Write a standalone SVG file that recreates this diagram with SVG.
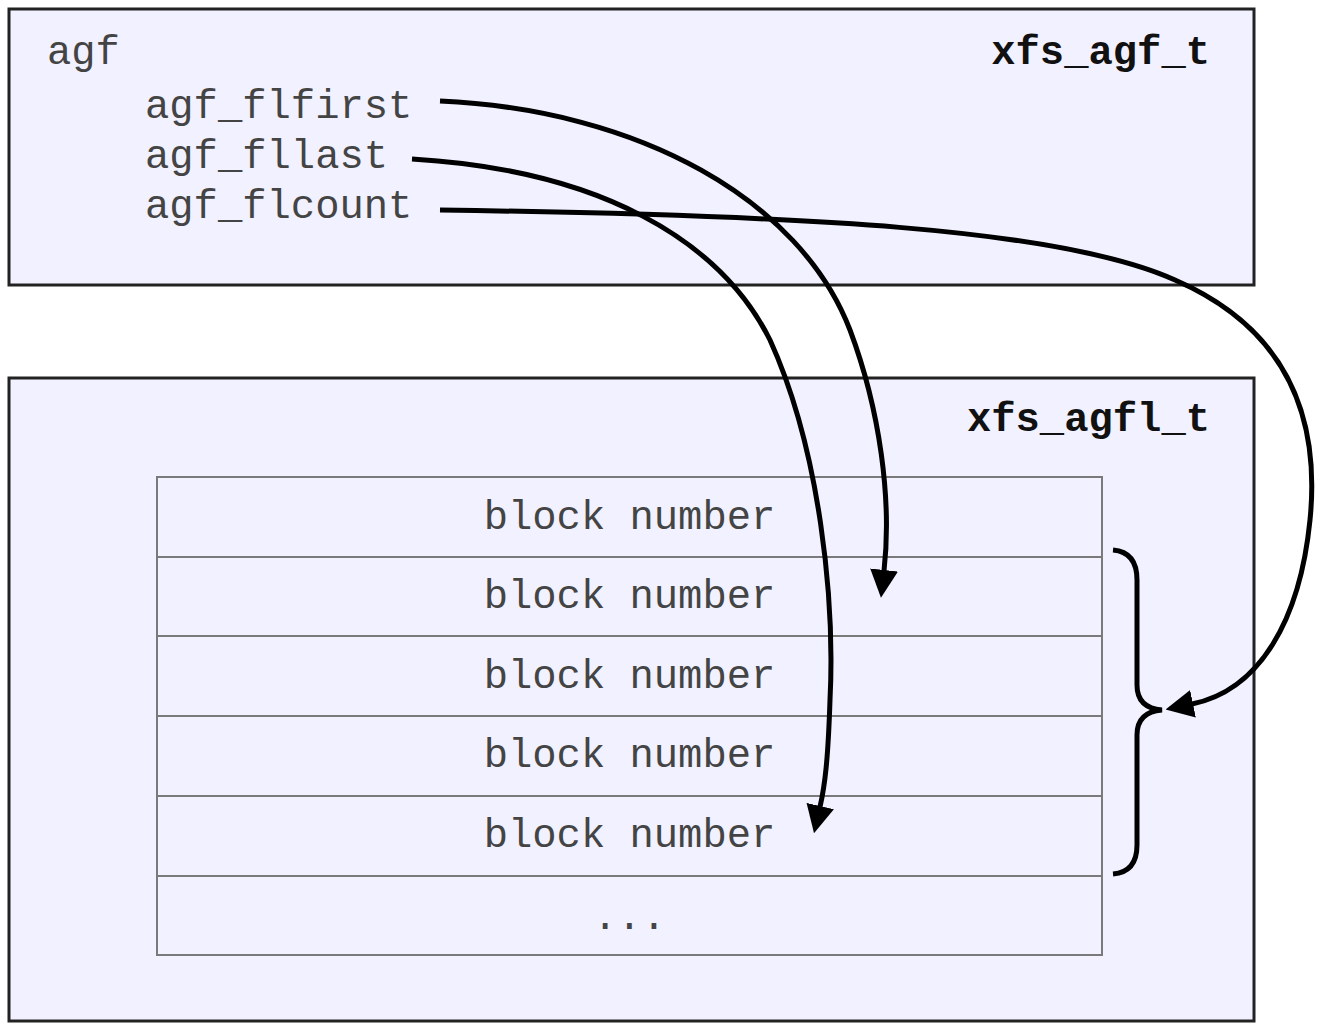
<svg xmlns="http://www.w3.org/2000/svg" width="1330" height="1023" viewBox="0 0 1330 1023">
<style>
.box{fill:#f1f1ff;stroke:#222;stroke-width:3}
.row{fill:#f1f1ff;stroke:#7a7a7a;stroke-width:2}
.t{font-family:"Liberation Mono","Courier New",monospace;font-size:40.5px;fill:#444}
.b{font-family:"Liberation Mono","Courier New",monospace;font-size:40.5px;font-weight:bold;fill:#111;text-anchor:end}
.c{text-anchor:middle}
.conn{fill:none;stroke:#000;stroke-width:5}
</style>
<defs>
<marker id="ah" viewBox="0 0 28 28" refX="1" refY="14" markerWidth="28" markerHeight="28" markerUnits="userSpaceOnUse" orient="auto">
<path d="M0,0 L28,14 L0,28 z" fill="#000"/>
</marker>
</defs>
<g id="agf">
<rect class="box" x="9" y="9" width="1245" height="276"/>
<text class="t" x="47" y="64">agf</text>
<text class="b" x="1210" y="64">xfs_agf_t</text>
<text class="t" x="145" y="118">agf_flfirst</text>
<text class="t" x="145" y="168">agf_fllast</text>
<text class="t" x="145" y="218">agf_flcount</text>
</g>
<g id="agfl">
<rect class="box" x="9" y="378" width="1245" height="643"/>
<text class="b" x="1210" y="431">xfs_agfl_t</text>
</g>
<g id="table">
<rect class="row" x="157" y="477" width="945" height="80"/>
<rect class="row" x="157" y="557" width="945" height="79"/>
<rect class="row" x="157" y="636" width="945" height="80"/>
<rect class="row" x="157" y="716" width="945" height="80"/>
<rect class="row" x="157" y="796" width="945" height="80"/>
<rect class="row" x="157" y="876" width="945" height="79"/>
<text class="t c" x="629.5" y="529">block number</text>
<text class="t c" x="629.5" y="608">block number</text>
<text class="t c" x="629.5" y="688">block number</text>
<text class="t c" x="629.5" y="767">block number</text>
<text class="t c" x="629.5" y="847">block number</text>
<text class="t c" x="629.5" y="929">...</text>
</g>
<g id="brace">
<path class="conn" d="M1113,550 Q1137,552 1137,580 L1137,685 Q1137,708 1162,710 Q1137,712 1137,735 L1137,845 Q1137,872 1113,874"/>
</g>
<g id="connectors">
<path class="conn" marker-end="url(#ah)" d="M440,101 C640,110 800,200 850,330 C880,410 892,500 884,571"/>
<path class="conn" marker-end="url(#ah)" d="M412,159 C600,170 720,240 770,340 C820,450 835,600 830,700 C828,760 825,785 820,807"/>
<path class="conn" marker-end="url(#ah)" d="M440,210 C800,215 1060,228 1175,280 C1290,330 1320,420 1310,520 C1300,620 1260,690 1192,704"/>
</g>
</svg>
